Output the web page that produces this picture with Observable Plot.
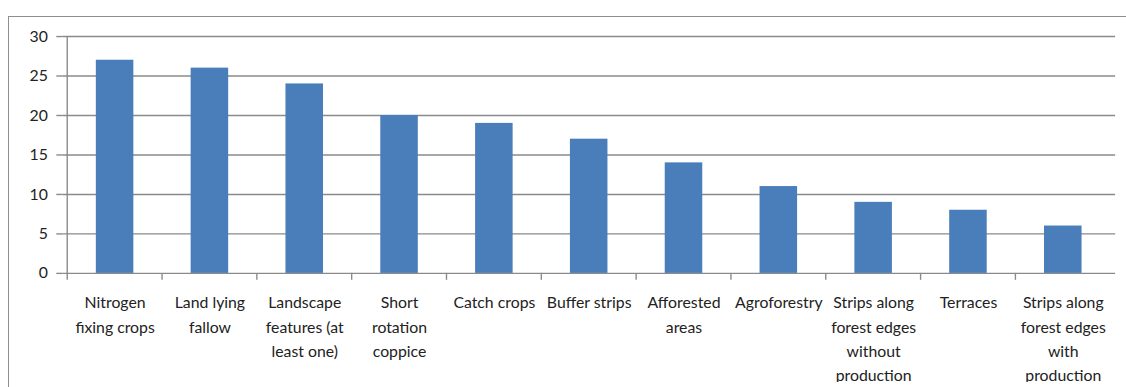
<!DOCTYPE html>
<html>
<head>
<meta charset="utf-8">
<script src="https://cdn.jsdelivr.net/npm/d3@7"></script>
<script src="https://cdn.jsdelivr.net/npm/@observablehq/plot@0.6"></script>
<style>
  html, body { margin: 0; padding: 0; background: #fff; overflow: hidden; width: 1126px; height: 387px; }
  #wrap { position: relative; width: 1126px; height: 387px; overflow: hidden; }
  #box { position: absolute; left: 8px; top: 16px; width: 2000px; height: 1000px; border: 1.5px solid #8e8e8e; box-sizing: border-box; }
  #chart { position: absolute; left: 0; top: 0; }
</style>
</head>
<body>
<div id="wrap"><div id="box"></div><div id="chart"></div></div>
<script>
const categories = [
  "Nitrogen fixing crops", "Land lying fallow", "Landscape features (at least one)",
  "Short rotation coppice", "Catch crops", "Buffer strips", "Afforested areas",
  "Agroforestry", "Strips along forest edges without production", "Terraces",
  "Strips along forest edges with production"
];
const labels = [
  "Nitrogen\nfixing crops", "Land lying\nfallow", "Landscape\nfeatures (at\nleast one)",
  "Short\nrotation\ncoppice", "Catch crops", "Buffer strips", "Afforested\nareas",
  "Agroforestry", "Strips along\nforest edges\nwithout\nproduction", "Terraces",
  "Strips along\nforest edges\nwith\nproduction"
];
const values = [27, 26, 24, 20, 19, 17, 14, 11, 9, 8, 6];
const yTicks = [0, 5, 10, 15, 20, 25, 30];

const data = categories.map((c, i) => ({category: c, label: labels[i], value: values[i]}));

const W = 1140, ML = 63, MR = 11;
const step = (W - ML - MR) / categories.length;
const grid = "#8a8a8a";
const font = "Lato, 'Open Sans', sans-serif";

const chart = Plot.plot({
  width: W,
  height: 387,
  marginLeft: ML,
  marginRight: MR,
  marginTop: 36.5,
  marginBottom: 110.7,
  style: {fontFamily: font, background: "transparent"},
  x: {domain: categories, paddingInner: 0.6, paddingOuter: 0.3, axis: null},
  y: {domain: [0, 30], axis: null},
  marks: [
    Plot.ruleY(yTicks, {stroke: grid, strokeWidth: 1.4}),
    Plot.barY(data, {x: "category", y: "value", fill: "#4a7ebb"}),
    Plot.ruleX([categories[0]], {dx: -step / 2, y1: 0, y2: 30, stroke: grid, strokeWidth: 1.4}),
    Plot.axisX({label: null, tickSize: 7, tickFormat: () => "", dx: -step / 2, stroke: grid, strokeWidth: 1.4}),
    Plot.axisY({label: null, ticks: yTicks, tickSize: 6, tickPadding: 9, fontSize: 16, fill: "#222", stroke: grid, strokeWidth: 1.4}),
    Plot.text(data, {x: "category", y: 0, text: "label", lineAnchor: "top", dy: 18, lineHeight: 1.53, fontSize: 16, fill: "#222"})
  ]
});
document.getElementById("chart").appendChild(chart);
</script>
</body>
</html>
